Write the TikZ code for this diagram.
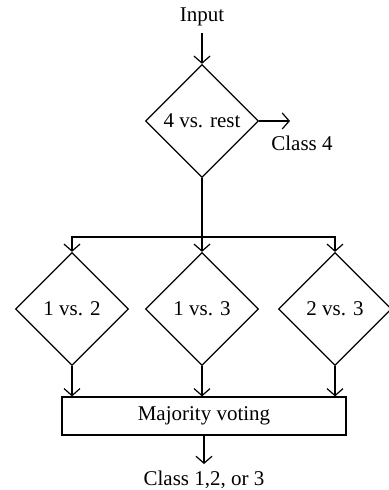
\documentclass[tikz,border=0pt]{standalone}
\usepackage{fontspec}
\setmainfont{Liberation Serif}
\usetikzlibrary{shapes.geometric}
\usetikzlibrary{arrows.meta}

\begin{document}
\begin{tikzpicture}[x=0.5pt, y=-0.5pt,
		every node/.style={font=\fontsize{10.5}{12}\selectfont},
		decision/.style={draw, shape=diamond, aspect=1, inner sep=0pt, minimum width=56.5pt, minimum height=56.5pt, line width=0.6pt},
		votebox/.style={draw, rectangle, minimum width=142pt, minimum height=19pt, line width=0.6pt},
		arrow/.style={line width=0.6pt, -{Straight Barb[length=3.5pt, width=8pt]}}]
		\useasboundingbox (0,0) rectangle (388,490);
		\node (input) at (202,17) {Input};
		\node[decision] (d4) at (202,121) {4 vs. rest};
		\coordinate (c4) at (290,121);
		\node (class4) at (302,143) {Class 4};
		\coordinate (split) at (202,237);
		\node[decision] (d12) at (72,309) {1 vs. 2};
		\node[decision] (d13) at (202,309) {1 vs. 3};
		\node[decision] (d23) at (335,309) {2 vs. 3};
		\node[votebox] (vote) at (204,416) {Majority voting};
		\node (out) at (204,480) {Class 1,2, or 3};
		\draw[arrow] (input) -- (d4);
		\draw[arrow] (d4.east) -- (c4);
		\draw[line width=0.6pt] (d4.south) -- (split);
		\foreach \d in {d12,d13,d23}
			\draw[arrow] (split) -| (\d.north);
		\foreach \d in {d12,d13,d23}
			\draw[arrow] (\d.south) -- (\d.south |- vote.north);
		\draw[arrow] (vote) -- (out);
	\end{tikzpicture}
\end{document}
